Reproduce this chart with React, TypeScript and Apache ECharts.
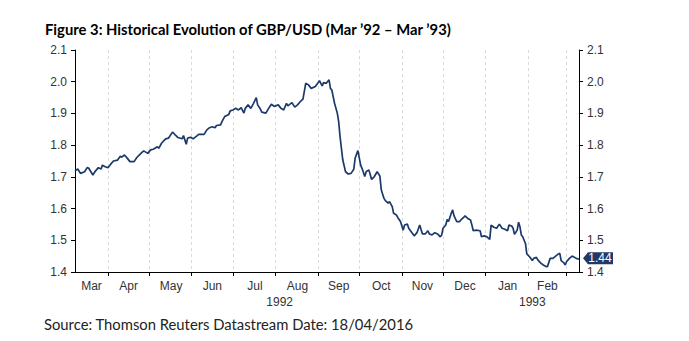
import React, { useEffect, useRef } from "react";
import * as echarts from "echarts";

// GBP/USD readings (date, rate)
const dates: string[] = [
  "1992-03-08","1992-03-10","1992-03-12","1992-03-15","1992-03-17","1992-03-18","1992-03-21","1992-03-23","1992-03-25","1992-03-27","1992-03-28","1992-03-30",
  "1992-04-01","1992-04-03","1992-04-05","1992-04-08","1992-04-10","1992-04-11","1992-04-13","1992-04-15","1992-04-17","1992-04-20","1992-04-22","1992-04-25","1992-04-27","1992-04-30",
  "1992-05-02","1992-05-04","1992-05-07","1992-05-08","1992-05-10","1992-05-13","1992-05-15","1992-05-18","1992-05-20","1992-05-22","1992-05-25","1992-05-26","1992-05-28","1992-05-29","1992-05-31",
  "1992-06-02","1992-06-05","1992-06-06","1992-06-10","1992-06-12","1992-06-14","1992-06-16","1992-06-18","1992-06-19","1992-06-22","1992-06-23","1992-06-25","1992-06-28","1992-06-29",
  "1992-07-01","1992-07-03","1992-07-05","1992-07-07","1992-07-09","1992-07-10","1992-07-12","1992-07-14","1992-07-16","1992-07-18","1992-07-19","1992-07-21","1992-07-22","1992-07-25","1992-07-27","1992-07-29","1992-07-31",
  "1992-08-03","1992-08-05","1992-08-07","1992-08-09","1992-08-10","1992-08-13","1992-08-15","1992-08-17","1992-08-19","1992-08-21","1992-08-23","1992-08-25","1992-08-27","1992-08-30",
  "1992-09-01","1992-09-02","1992-09-04","1992-09-05","1992-09-07","1992-09-09","1992-09-10","1992-09-11","1992-09-13","1992-09-15","1992-09-16","1992-09-17","1992-09-18","1992-09-19","1992-09-21","1992-09-23","1992-09-25","1992-09-27","1992-09-28","1992-09-30",
  "1992-10-02","1992-10-03","1992-10-05","1992-10-06","1992-10-08","1992-10-10","1992-10-12","1992-10-14","1992-10-16","1992-10-17","1992-10-19","1992-10-20","1992-10-22","1992-10-23","1992-10-25","1992-10-26","1992-10-28","1992-10-29","1992-10-31",
  "1992-11-02","1992-11-03","1992-11-05","1992-11-06","1992-11-07","1992-11-09","1992-11-10","1992-11-12","1992-11-14","1992-11-16","1992-11-18","1992-11-20","1992-11-21","1992-11-23","1992-11-25","1992-11-27","1992-11-29","1992-11-30",
  "1992-12-01","1992-12-03","1992-12-04","1992-12-05","1992-12-07","1992-12-08","1992-12-09","1992-12-11","1992-12-13","1992-12-14","1992-12-16","1992-12-17","1992-12-19","1992-12-21","1992-12-22","1992-12-23","1992-12-25","1992-12-28","1992-12-29","1992-12-31",
  "1993-01-02","1993-01-04","1993-01-05","1993-01-07","1993-01-09","1993-01-11","1993-01-13","1993-01-15","1993-01-17","1993-01-18","1993-01-20","1993-01-21","1993-01-22","1993-01-24","1993-01-25","1993-01-26","1993-01-27","1993-01-28","1993-01-30","1993-01-31",
  "1993-02-02","1993-02-04","1993-02-05","1993-02-07","1993-02-08","1993-02-10","1993-02-12","1993-02-14","1993-02-15","1993-02-17","1993-02-19","1993-02-21","1993-02-23","1993-02-24","1993-02-25","1993-02-27","1993-02-28",
  "1993-03-01","1993-03-03","1993-03-05","1993-03-06","1993-03-08","1993-03-10"
];

const values: number[] = [
  1.719,1.725,1.711,1.716,1.730,1.727,1.706,1.719,1.729,1.725,1.737,1.732,
  1.729,1.740,1.750,1.753,1.765,1.762,1.769,1.759,1.748,1.748,1.761,1.774,1.782,1.774,
  1.785,1.787,1.795,1.790,1.806,1.820,1.822,1.841,1.832,1.824,1.820,1.830,1.803,1.822,1.825,
  1.820,1.830,1.834,1.834,1.848,1.855,1.858,1.855,1.862,1.864,1.874,1.890,1.897,1.908,
  1.911,1.916,1.911,1.918,1.901,1.916,1.927,1.916,1.932,1.950,1.927,1.914,1.904,1.901,1.916,1.929,1.922,
  1.927,1.916,1.911,1.932,1.924,1.934,1.920,1.927,1.937,1.945,1.995,1.990,1.979,1.985,
  1.997,2.003,1.987,1.997,1.995,2.006,1.979,1.974,1.932,1.901,1.874,1.827,1.790,1.753,1.716,1.709,1.711,1.724,1.759,1.783,
  1.737,1.727,1.701,1.716,1.722,1.692,1.701,1.716,1.703,1.659,1.632,1.625,1.617,1.622,1.606,1.585,1.580,1.572,1.559,
  1.532,1.548,1.551,1.538,1.532,1.520,1.514,1.524,1.548,1.520,1.520,1.530,1.520,1.517,1.524,1.520,1.511,1.517,
  1.538,1.548,1.566,1.559,1.585,1.596,1.577,1.559,1.559,1.564,1.572,1.577,1.569,1.564,1.548,1.530,1.532,1.530,1.511,1.514,
  1.511,1.503,1.548,1.541,1.538,1.551,1.538,1.535,1.530,1.548,1.545,1.538,1.519,1.532,1.557,1.543,1.517,1.511,1.490,1.457,
  1.448,1.436,1.443,1.446,1.438,1.429,1.422,1.417,1.417,1.443,1.443,1.450,1.457,1.459,1.436,1.429,1.422,
  1.433,1.443,1.450,1.448,1.443,1.440
];

const monthLabels: string[] = ["Jan","Feb","Mar","Apr","May","Jun","Jul","Aug","Sep","Oct","Nov","Dec"];
const axisStart = "1992-03-08";
const axisEnd = "1993-03-10";
const yMin = 1.4;
const yMax = 2.1;
const yStep = 0.1;
const lastLabel = "1.44";

const titleText = "Figure 3: Historical Evolution of GBP/USD (Mar \u201992 \u2013 Mar \u201993)";
const sourceText = "Source: Thomson Reuters Datastream Date: 18/04/2016";

function toTs(s: string): number {
  const [y, m, d] = s.split("-").map(Number);
  return Date.UTC(y, m - 1, d);
}
function fmt(ts: number): string {
  const d = new Date(ts);
  const mm = String(d.getUTCMonth() + 1).padStart(2, "0");
  const dd = String(d.getUTCDate()).padStart(2, "0");
  return `${d.getUTCFullYear()}-${mm}-${dd}`;
}

// daily calendar scaffold for ticks / labels
const DAY = 86400000;
const days: string[] = [];
for (let t = toTs(axisStart); t <= toTs(axisEnd); t += DAY) days.push(fmt(t));

// month label positions: middle of each month's visible span
const monthLabelIdx = new Map<number, string>();
{
  let start = 0;
  for (let i = 1; i <= days.length; i++) {
    if (i === days.length || days[i].slice(8) === "01") {
      const span = i - start;
      if (span >= 20) {
        const mid = Math.round((start + i) / 2);
        monthLabelIdx.set(mid, monthLabels[Number(days[start].slice(5, 7)) - 1]);
      }
      start = i;
    }
  }
}
const yearLabelIdx = new Map<number, string>();
{
  let start = 0;
  for (let i = 1; i <= days.length; i++) {
    if (i === days.length || days[i].slice(5) === "01-01") {
      yearLabelIdx.set(Math.round((start + i - 1) / 2), days[start].slice(0, 4));
      start = i;
    }
  }
}

export default function App() {
  const ref = useRef<HTMLDivElement>(null);
  useEffect(() => {
    if (!ref.current) return;
    const chart = echarts.init(ref.current, undefined, { renderer: "svg" });
    const axisFont = { fontFamily: "Liberation Sans", fontSize: 12, color: "#333" };
    const n = dates.length;
    chart.setOption({
      animation: false,
      backgroundColor: "#fff",
      grid: { left: 75, right: 110, top: 50, bottom: 69, containLabel: false },
      graphic: [
        {
          type: "text",
          left: 45,
          top: 21,
          style: { text: titleText, fontFamily: "Lato", fontWeight: "bold", fontSize: 14.8, fill: "#000" },
        },
        {
          type: "text",
          left: 44,
          top: 316,
          style: { text: sourceText, fontFamily: "Lato", fontSize: 14.8, fill: "#222" },
        },
      ],
      xAxis: [
        {
          type: "time",
          min: toTs(axisStart),
          max: toTs(axisEnd),
          show: true,
          axisLine: { show: false },
          axisTick: { show: false },
          axisLabel: { show: false },
          splitLine: { show: false },
        },
        {
          type: "category",
          data: days,
          boundaryGap: false,
          position: "bottom",
          axisLine: { show: true, lineStyle: { color: "#000", width: 1 } },
          axisTick: {
            show: true,
            length: 4,
            lineStyle: { color: "#000" },
            interval: (i: number, v: string) => v.slice(8) === "01",
          },
          axisLabel: {
            ...axisFont,
            margin: 8,
            interval: (i: number) => monthLabelIdx.has(i),
            formatter: (v: string, i: number) => monthLabelIdx.get(i) ?? "",
          },
          splitLine: {
            show: true,
            interval: (i: number, v: string) => v.slice(8) === "01",
            lineStyle: { color: "#d9d9d9", type: [3, 3], width: 1 },
          },
        },
        {
          type: "category",
          data: days,
          boundaryGap: false,
          position: "bottom",
          axisLine: { show: false },
          axisTick: { show: false },
          axisLabel: {
            ...axisFont,
            margin: 24,
            interval: (i: number) => yearLabelIdx.has(i),
            formatter: (v: string, i: number) => yearLabelIdx.get(i) ?? "",
          },
          splitLine: { show: false },
        },
      ],
      yAxis: [
        {
          type: "value",
          position: "left",
          min: yMin,
          max: yMax,
          interval: yStep,
          axisLine: { show: true, lineStyle: { color: "#000" } },
          axisTick: { show: true, length: 4, lineStyle: { color: "#000" } },
          axisLabel: { ...axisFont, margin: 8, formatter: (v: number) => v.toFixed(1) },
          splitLine: { show: false },
        },
        {
          type: "value",
          position: "right",
          min: yMin,
          max: yMax,
          interval: yStep,
          axisLine: { show: true, lineStyle: { color: "#000" } },
          axisTick: { show: true, length: 4, lineStyle: { color: "#000" } },
          axisLabel: { ...axisFont, margin: 8, formatter: (v: number) => v.toFixed(1) },
          splitLine: { show: false },
        },
      ],
      series: [
        {
          type: "line",
          xAxisIndex: 0,
          yAxisIndex: 0,
          data: dates.map((d, i) => [toTs(d), values[i]]),
          showSymbol: false,
          symbol: "none",
          lineStyle: { color: "#1B3A6B", width: 1.7 },
          z: 3,
          markPoint: {
            symbol: "path://M0,6 L5,0 L30,0 L30,12 L5,12 Z",
            symbolSize: [30, 12],
            symbolKeepAspect: false,
            symbolOffset: [19, -1],
            itemStyle: { color: "#1F3A68" },
            label: {
              show: true,
              position: "inside",
              offset: [2, 0],
              formatter: lastLabel,
              color: "#fff",
              fontFamily: "Liberation Sans",
              fontSize: 12,
            },
            data: [{ coord: [toTs(dates[n - 1]), values[n - 1]] }],
          },
        },
      ],
    });
    return () => chart.dispose();
  }, []);
  return <div ref={ref} style={{ width: 689, height: 341, margin: -8 }} />;
}
